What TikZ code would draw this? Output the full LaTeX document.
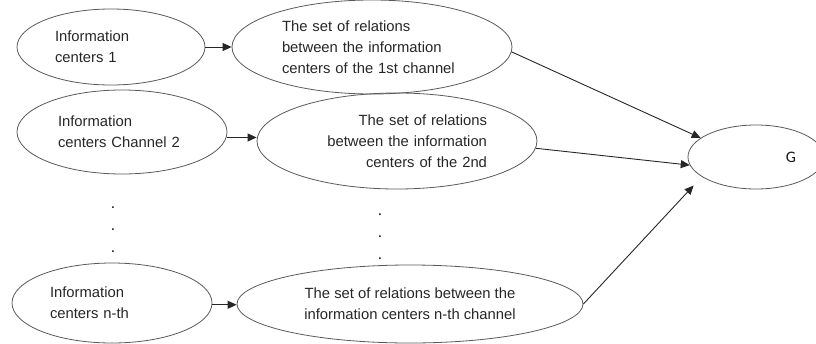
\documentclass[tikz,border=0pt]{standalone}
\usepackage{fontspec}
\setmainfont{Liberation Sans}
\newfontfamily\gfont{Carlito}
\usetikzlibrary{positioning, shapes, arrows.meta}

\begin{document}
\begin{tikzpicture}[x=1pt, y=-1pt,
centernode/.style={ellipse, draw=black!65, line width=0.8pt, inner sep=0pt, align=left, text=black!85, font=\fontsize{14.8}{21}\selectfont},
relnode/.style={centernode},
gnode/.style={ellipse, draw=black!65, line width=0.8pt, inner sep=0pt, align=right, text=black!90, font=\gfont\fontsize{16}{20}\selectfont, minimum width=136pt, minimum height=64pt},
dotnode/.style={align=center, inner sep=0pt, font=\fontsize{15.5}{22}\selectfont},
to/.style={-{Triangle[length=9pt,width=8pt]}, draw=black!85, line width=0.9pt},
]
\clip (0,0) rectangle (816,343);
%nodes
\node[centernode, minimum width=188pt, minimum height=76pt, text width=112pt](ic1) at (111,47) {Information\\centers 1};
\node[relnode, minimum width=280pt, minimum height=94pt, text width=180pt](rel1) at (372,47) {The set of relations\\between the information\\centers of the 1st channel};
\node[centernode, minimum width=210pt, minimum height=84pt, text width=128pt](ic2) at (122,132) {Information\\centers Channel 2};
\node[relnode, minimum width=280pt, minimum height=96pt, text width=180pt, align=right](rel2) at (397,141) {The set of relations\\between the information\\centers of the 2nd};
\node[dotnode](dl) at (113,230) {.\\.\\.};
\node[dotnode](dm) at (380,237) {.\\.\\.};
\node[centernode, minimum width=200pt, minimum height=80pt, text width=124pt](ic3) at (112,303) {Information\\centers n-th};
\node[relnode, minimum width=346pt, minimum height=78pt, align=center](rel3) at (410,304) {The set of relations between the\\information centers n-th channel};
\node[gnode, text width=80pt](g) at (756,157) {G};
%connections
\draw[to] (ic1.east) -- (rel1.west);
\draw[to] (ic2.-3) -- (ic2.-3 -| rel2.west);
\draw[to] (ic3.-1) -- (ic3.-1 -| rel3.west);
\draw[to] (rel1.-2) -- (g.161);
\draw[to] (rel2.-3) -- (g.187);
\draw[to, shorten >=12pt] (rel3.east) -- (g.200);
\end{tikzpicture}
\end{document}
